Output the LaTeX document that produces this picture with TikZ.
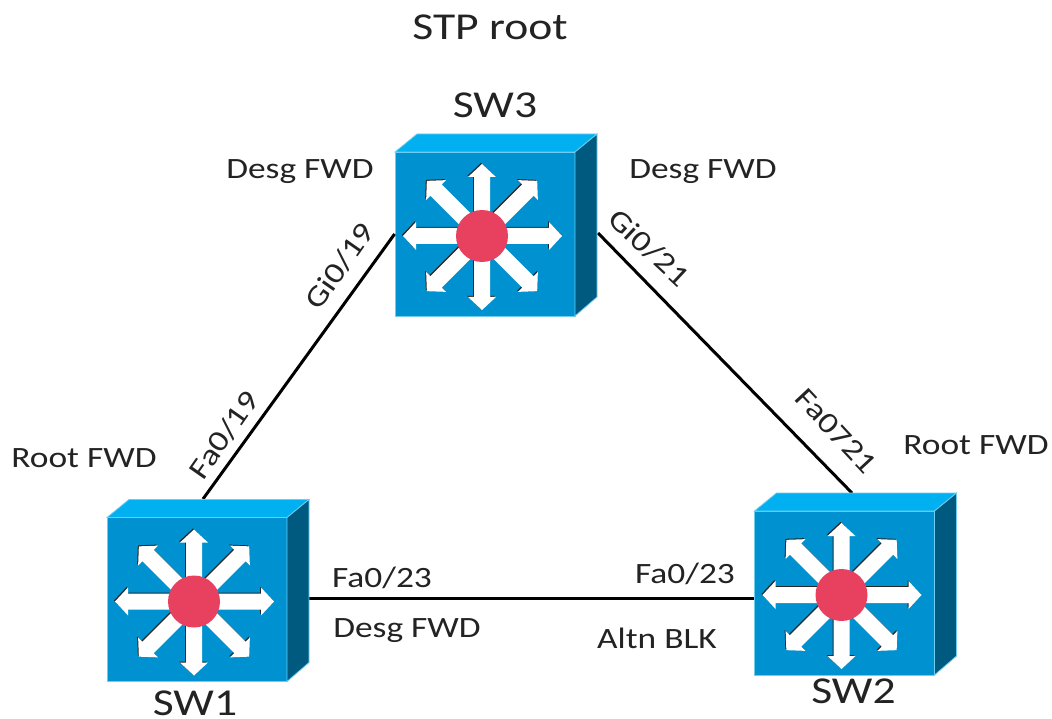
\documentclass[tikz,border=0pt]{standalone}
\usepackage{fontspec}
\setmainfont[FakeStretch=1.2]{Carlito}
\usetikzlibrary{positioning}
\definecolor{swfront}{RGB}{0,146,208}
\definecolor{swtop}{RGB}{0,176,240}
\definecolor{swside}{RGB}{0,90,128}
\definecolor{swedge}{RGB}{110,205,240}
\definecolor{swhub}{RGB}{232,65,95}
\definecolor{inktext}{RGB}{35,35,35}
\newcommand{\swicon}[1]{%
  \begin{scope}[shift={(#1.center)}]
    \path[swface,fill=swtop] (-90,-82) -- (-68,-100) -- (112,-100) -- (90,-82) -- cycle;
    \path[swface,fill=swside] (90,-82) -- (112,-100) -- (112,63) -- (90,82) -- cycle;
    \foreach \ang/\len in {0/80,45/78,90/72,135/78,180/79,225/78,270/74,315/78}
      \fill[black!85,shift={(-4,1)},rotate=\ang] (0,-8) -- (\len-13,-8) -- (\len-13,-14) -- (\len,0) -- (\len-13,14) -- (\len-13,8) -- (0,8) -- cycle;
    \foreach \ang/\len in {0/80,45/78,90/72,135/78,180/79,225/78,270/74,315/78}
      \fill[white,shift={(-3,2)},rotate=\ang] (0,-8) -- (\len-13,-8) -- (\len-13,-14) -- (\len,0) -- (\len-13,14) -- (\len-13,8) -- (0,8) -- cycle;
    \fill[swhub] (-3,2) circle (26);
  \end{scope}}
\begin{document}
\begin{tikzpicture}[x=1pt,y=-1pt,node distance=3cm,on grid]
  \tikzset{swface/.style={draw=swedge,line width=0.8pt}}
  \tikzset{switch/.style={rectangle,draw=swedge,line width=0.8pt,fill=swfront,minimum width=180pt,minimum height=164pt,inner sep=0pt}}
  \tikzset{link/.style={draw=black,line width=3pt}}
  \tikzset{every node/.style={text=inktext}}
  \tikzset{plabel/.style={font=\fontsize{29.5}{32}\selectfont}}
  \tikzset{swname/.style={font=\fontsize{38}{42}\selectfont}}
  \useasboundingbox (0,0) rectangle (1052,719);
  \fill[white] (0,0) rectangle (1052,719);
  \node[switch] (sw3) at (485,234) {};
  \node[switch] (sw1) [below left=365.5pt and 288pt of sw3] {};
  \node[switch] (sw2) [below right=359pt and 359.5pt of sw3] {};
  \coordinate (p13) at (203,499);
  \coordinate (p23) at (852,493);
  \coordinate (p32) at (598,233);
  \coordinate (p12) at (309,598);
  \draw[link] (sw3.west) -- (p13);
  \draw[link] (p32) -- (p23);
  \draw[link] (p12) -- (p12 -| sw2.west);
  \swicon{sw3}
  \swicon{sw1}
  \swicon{sw2}
  \node[font=\fontsize{38}{42}\selectfont] (root) [above=207pt of sw3,xshift=5pt] {STP root};
  \node[swname] (n3) [above=129pt of sw3,xshift=10pt] {SW3};
  \node[swname] (n1) [below=104pt of sw1,xshift=-2pt] {SW1};
  \node[swname] (n2) [below=98pt of sw2,xshift=9pt] {SW2};
  \node[plabel] (d31) at (300,172) {Desg FWD};
  \node[plabel] (d32) at (703,172) {Desg FWD};
  \node[plabel] (r1) at (84,458) {Root FWD};
  \node[plabel] (r2) at (976,445) {Root FWD};
  \node[plabel] (d12) at (407,631) {Desg FWD};
  \node[plabel] (a21) at (657,638) {Altn BLK};
  \node[plabel] (f12) at (382,578) {Fa0/23};
  \node[plabel] (f21) at (685,574) {Fa0/23};
  \node[plabel,rotate=55] (g19) at (340,266) {Gi0/19};
  \node[plabel,rotate=55] (f19) at (224,435) {Fa0/19};
  \node[plabel,rotate=-43] (g21) at (649,248) {Gi0/21};
  \node[plabel,rotate=-47] (f721) at (836,431) {Fa0721};
\end{tikzpicture}
\end{document}
